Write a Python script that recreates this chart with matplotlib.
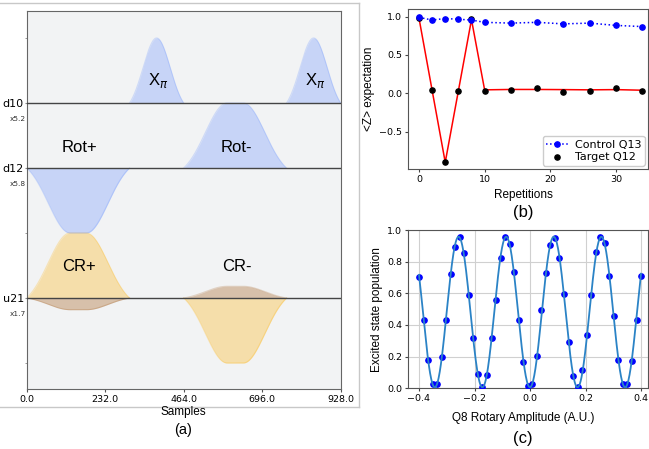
import numpy as np
import matplotlib
matplotlib.use('Agg')
import matplotlib.pyplot as plt
from matplotlib.lines import Line2D

# ---------------- Panel (a): pulse schedule ----------------
channels = ['d10', 'd12', 'u21']
channel_scales = ['x5.2', 'x5.8', 'x1.7']
channel_offsets = [4.4, 3.4, 1.4]
sample_ticks = [0.0, 232.0, 464.0, 696.0, 928.0]
total_samples = 928.0

pulse_channel = ['d10', 'd10', 'd12', 'd12', 'u21', 'u21']
pulse_label = [r'X$_\pi$', r'X$_\pi$', 'Rot+', 'Rot-', 'CR+', 'CR-']
pulse_start = [304, 768, 0, 464, 0, 464]
pulse_duration = [160, 160, 304, 304, 304, 304]
pulse_amp_re = [1.0, 1.0, -1.0, 1.0, 1.0, -1.0]
pulse_amp_im = [0.0, 0.0, 0.0, 0.0, -0.18, 0.18]
pulse_sigma = [40, 40, 64, 64, 64, 64]
pulse_width = [0, 0, 48, 48, 48, 48]

# ---------------- Panel (b): repetitions ----------------
reps = [0, 2, 4, 6, 8, 10, 14, 18, 22, 26, 30, 34]
control_q13 = [0.99, 0.955, 0.975, 0.965, 0.955, 0.925, 0.915, 0.925, 0.905, 0.915, 0.885, 0.87]
target_q12 = [0.985, 0.04, -0.89, 0.035, 0.965, 0.035, 0.04, 0.07, 0.02, 0.035, 0.07, 0.035]
target_fit = [0.98, 0.04, -0.90, 0.03, 0.96, 0.045, 0.05, 0.05, 0.048, 0.045, 0.048, 0.04]

# ---------------- Panel (c): rotary amplitude scan ----------------
amplitudes = np.linspace(-0.4, 0.4, 50)
population = [0.70, 0.43, 0.18, 0.025, 0.03, 0.20, 0.43, 0.72, 0.89, 0.955,
              0.855, 0.59, 0.316, 0.093, 0.006, 0.084, 0.316, 0.558, 0.825, 0.954,
              0.91, 0.733, 0.43, 0.164, 0.017, 0.025, 0.204, 0.493, 0.726, 0.905,
              0.947, 0.825, 0.596, 0.29, 0.08, 0.01, 0.116, 0.335, 0.592, 0.859,
              0.956, 0.918, 0.71, 0.455, 0.177, 0.027, 0.03, 0.172, 0.43, 0.707]

SANS = ['Liberation Sans', 'DejaVu Sans']
W, H = 649, 449
fig = plt.figure(figsize=(W / 100, H / 100), dpi=100)


def px_rect(l, t, r, b):
    return [l / W, 1 - b / H, (r - l) / W, (b - t) / H]


def lifted_shape(duration, sigma, width, n=400):
    t = np.linspace(0, duration, n)
    rf = (duration - width) / 2.0
    g = np.ones_like(t)
    left = t < rf
    right = t > rf + width
    g[left] = np.exp(-(t[left] - rf) ** 2 / (2 * sigma ** 2))
    g[right] = np.exp(-(t[right] - rf - width) ** 2 / (2 * sigma ** 2))
    edge = np.exp(-rf ** 2 / (2 * sigma ** 2))
    return t, (g - edge) / (1 - edge)


# ---------- panel (a) ----------
axA = fig.add_axes(px_rect(26.7, 11, 340.7, 389))
axA.set_facecolor('#f2f3f4')
axA.set_xlim(0, total_samples)
axA.set_ylim(0, 5.815)
label_dy = {'d10': 0.35, 'd12': 0.32, 'u21': 0.48}
for ch, lab, st, du, are, aim, sg, wd in zip(pulse_channel, pulse_label, pulse_start,
                                              pulse_duration, pulse_amp_re, pulse_amp_im,
                                              pulse_sigma, pulse_width):
    base = channel_offsets[channels.index(ch)]
    t, shp = lifted_shape(du, sg, wd)
    x = st + t
    if ch.startswith('u'):
        c_re, c_im = '#ffb000', '#994A00'
    else:
        c_re, c_im = '#648fff', '#002999'
    axA.fill_between(x, base, base + are * shp, color=c_re, alpha=0.3, lw=0, zorder=2)
    axA.plot(x, base + are * shp, color=c_re, alpha=0.25, lw=0.8, zorder=2)
    if aim != 0:
        axA.fill_between(x, base, base + aim * shp, color=c_im, alpha=0.3, lw=0, zorder=2)
        axA.plot(x, base + aim * shp, color=c_im, alpha=0.2, lw=0.8, zorder=2)
    axA.text(st + du / 2 + 4, base + label_dy[ch], lab, ha='center', va='center',
             fontsize=12, family=SANS, zorder=5)
for off in channel_offsets:
    axA.axhline(off, color='#444444', lw=1.0, zorder=3)
axA.set_xticks(sample_ticks)
axA.set_xticklabels(['%.1f' % v for v in sample_ticks])
axA.set_yticks(channel_offsets)
axA.set_yticklabels(channels)
axA.set_yticks([5.4, 2.4, 0.4], minor=True)
axA.tick_params(axis='x', labelsize=6.8, length=2, pad=2.5, color='#555555')
axA.tick_params(axis='y', which='both', labelsize=8, length=1.5, pad=0.5, color='#888888')
for s in axA.spines.values():
    s.set_color('#666666')
for off, sc in zip(channel_offsets, channel_scales):
    axA.text(-0.003, off - 0.25, sc, transform=axA.get_yaxis_transform(), ha='right',
             va='center', fontsize=5.3, color='#333333')
fig.text(183 / W, 1 - 412 / H, 'Samples', ha='center', va='center', fontsize=8.5, family=SANS)
fig.text(183 / W, 1 - 430 / H, '(a)', ha='center', va='center', fontsize=10.5, family=SANS)

# frame around panel (a)
fc = '#c8c8c8'
fig.add_artist(Line2D([0, 359 / W], [1 - 2.5 / H, 1 - 2.5 / H], color=fc, lw=1))
fig.add_artist(Line2D([0, 359 / W], [1 - 407 / H, 1 - 407 / H], color=fc, lw=1))
fig.add_artist(Line2D([359 / W, 359 / W], [1 - 2.5 / H, 1 - 407 / H], color=fc, lw=1))

# ---------- panel (b) ----------
axB = fig.add_axes(px_rect(407.7, 9.3, 648, 169))
axB.plot(reps, target_fit, color='red', lw=1.1, zorder=2)
axB.scatter(reps, target_q12, s=14, color='black', zorder=3, label='Target Q12')
axB.plot(reps, control_q13, linestyle=':', color='blue', lw=1.1, marker='o',
         markersize=3.8, zorder=4, label='Control Q13')
axB.set_xlim(-1.72, 34.9)
axB.set_ylim(-0.987, 1.095)
axB.set_xticks([0, 10, 20, 30])
axB.set_yticks([-0.5, 0.0, 0.5, 1.0])
axB.tick_params(labelsize=6.8, length=2.5, pad=1.5, color='#444444')
for s in axB.spines.values():
    s.set_color('#555555')
h, l = axB.get_legend_handles_labels()
axB.legend([h[1], h[0]], [l[1], l[0]], loc='lower right', fontsize=8,
           borderpad=0.3, handletextpad=0.6, labelspacing=0.25, borderaxespad=0.3,
           framealpha=1, edgecolor='#cccccc')
axB.set_ylabel('<Z> expectation', fontsize=8.5, family=SANS, labelpad=3)
fig.text(523 / W, 1 - 195 / H, 'Repetitions', ha='center', va='center', fontsize=8.5, family=SANS)
fig.text(523 / W, 1 - 213 / H, '(b)', ha='center', va='center', fontsize=12, family=SANS)

# ---------- panel (c) ----------
axC = fig.add_axes(px_rect(407.7, 230, 648, 388.3))
freqs = np.linspace(4.0, 8.0, 4001)
pop = np.asarray(population)
best = None
for f in freqs:
    M = np.column_stack([np.cos(2 * np.pi * f * amplitudes),
                         np.sin(2 * np.pi * f * amplitudes),
                         np.ones_like(amplitudes)])
    coef, res, _, _ = np.linalg.lstsq(M, pop, rcond=None)
    r = np.sum((M @ coef - pop) ** 2)
    if best is None or r < best[0]:
        best = (r, f, coef)
_, fb, cb = best
xf = np.linspace(amplitudes[0], amplitudes[-1], 600)
yf = cb[0] * np.cos(2 * np.pi * fb * xf) + cb[1] * np.sin(2 * np.pi * fb * xf) + cb[2]
axC.plot(amplitudes, population, 'o', color='blue', markersize=3.8, zorder=3)
axC.plot(xf, yf, color='#2b83c6', lw=1.3, zorder=4)
axC.set_xlim(-0.4407, 0.425)
axC.set_ylim(0, 1.0)
axC.set_xticks([-0.4, -0.2, 0.0, 0.2, 0.4])
axC.set_yticks([0.0, 0.2, 0.4, 0.6, 0.8, 1.0])
axC.grid(True, color='#d0d0d0', lw=0.8)
axC.set_axisbelow(True)
axC.tick_params(labelsize=6.8, length=2.5, pad=1.5, color='#444444')
for s in axC.spines.values():
    s.set_color('#555555')
axC.set_ylabel('Excited state population', fontsize=8.5, family=SANS, labelpad=3)
fig.text(523 / W, 1 - 418 / H, 'Q8 Rotary Amplitude (A.U.)', ha='center', va='center',
         fontsize=8.5, family=SANS)
fig.text(523 / W, 1 - 438 / H, '(c)', ha='center', va='center', fontsize=12, family=SANS)

fig.savefig('out.png', dpi=100)
